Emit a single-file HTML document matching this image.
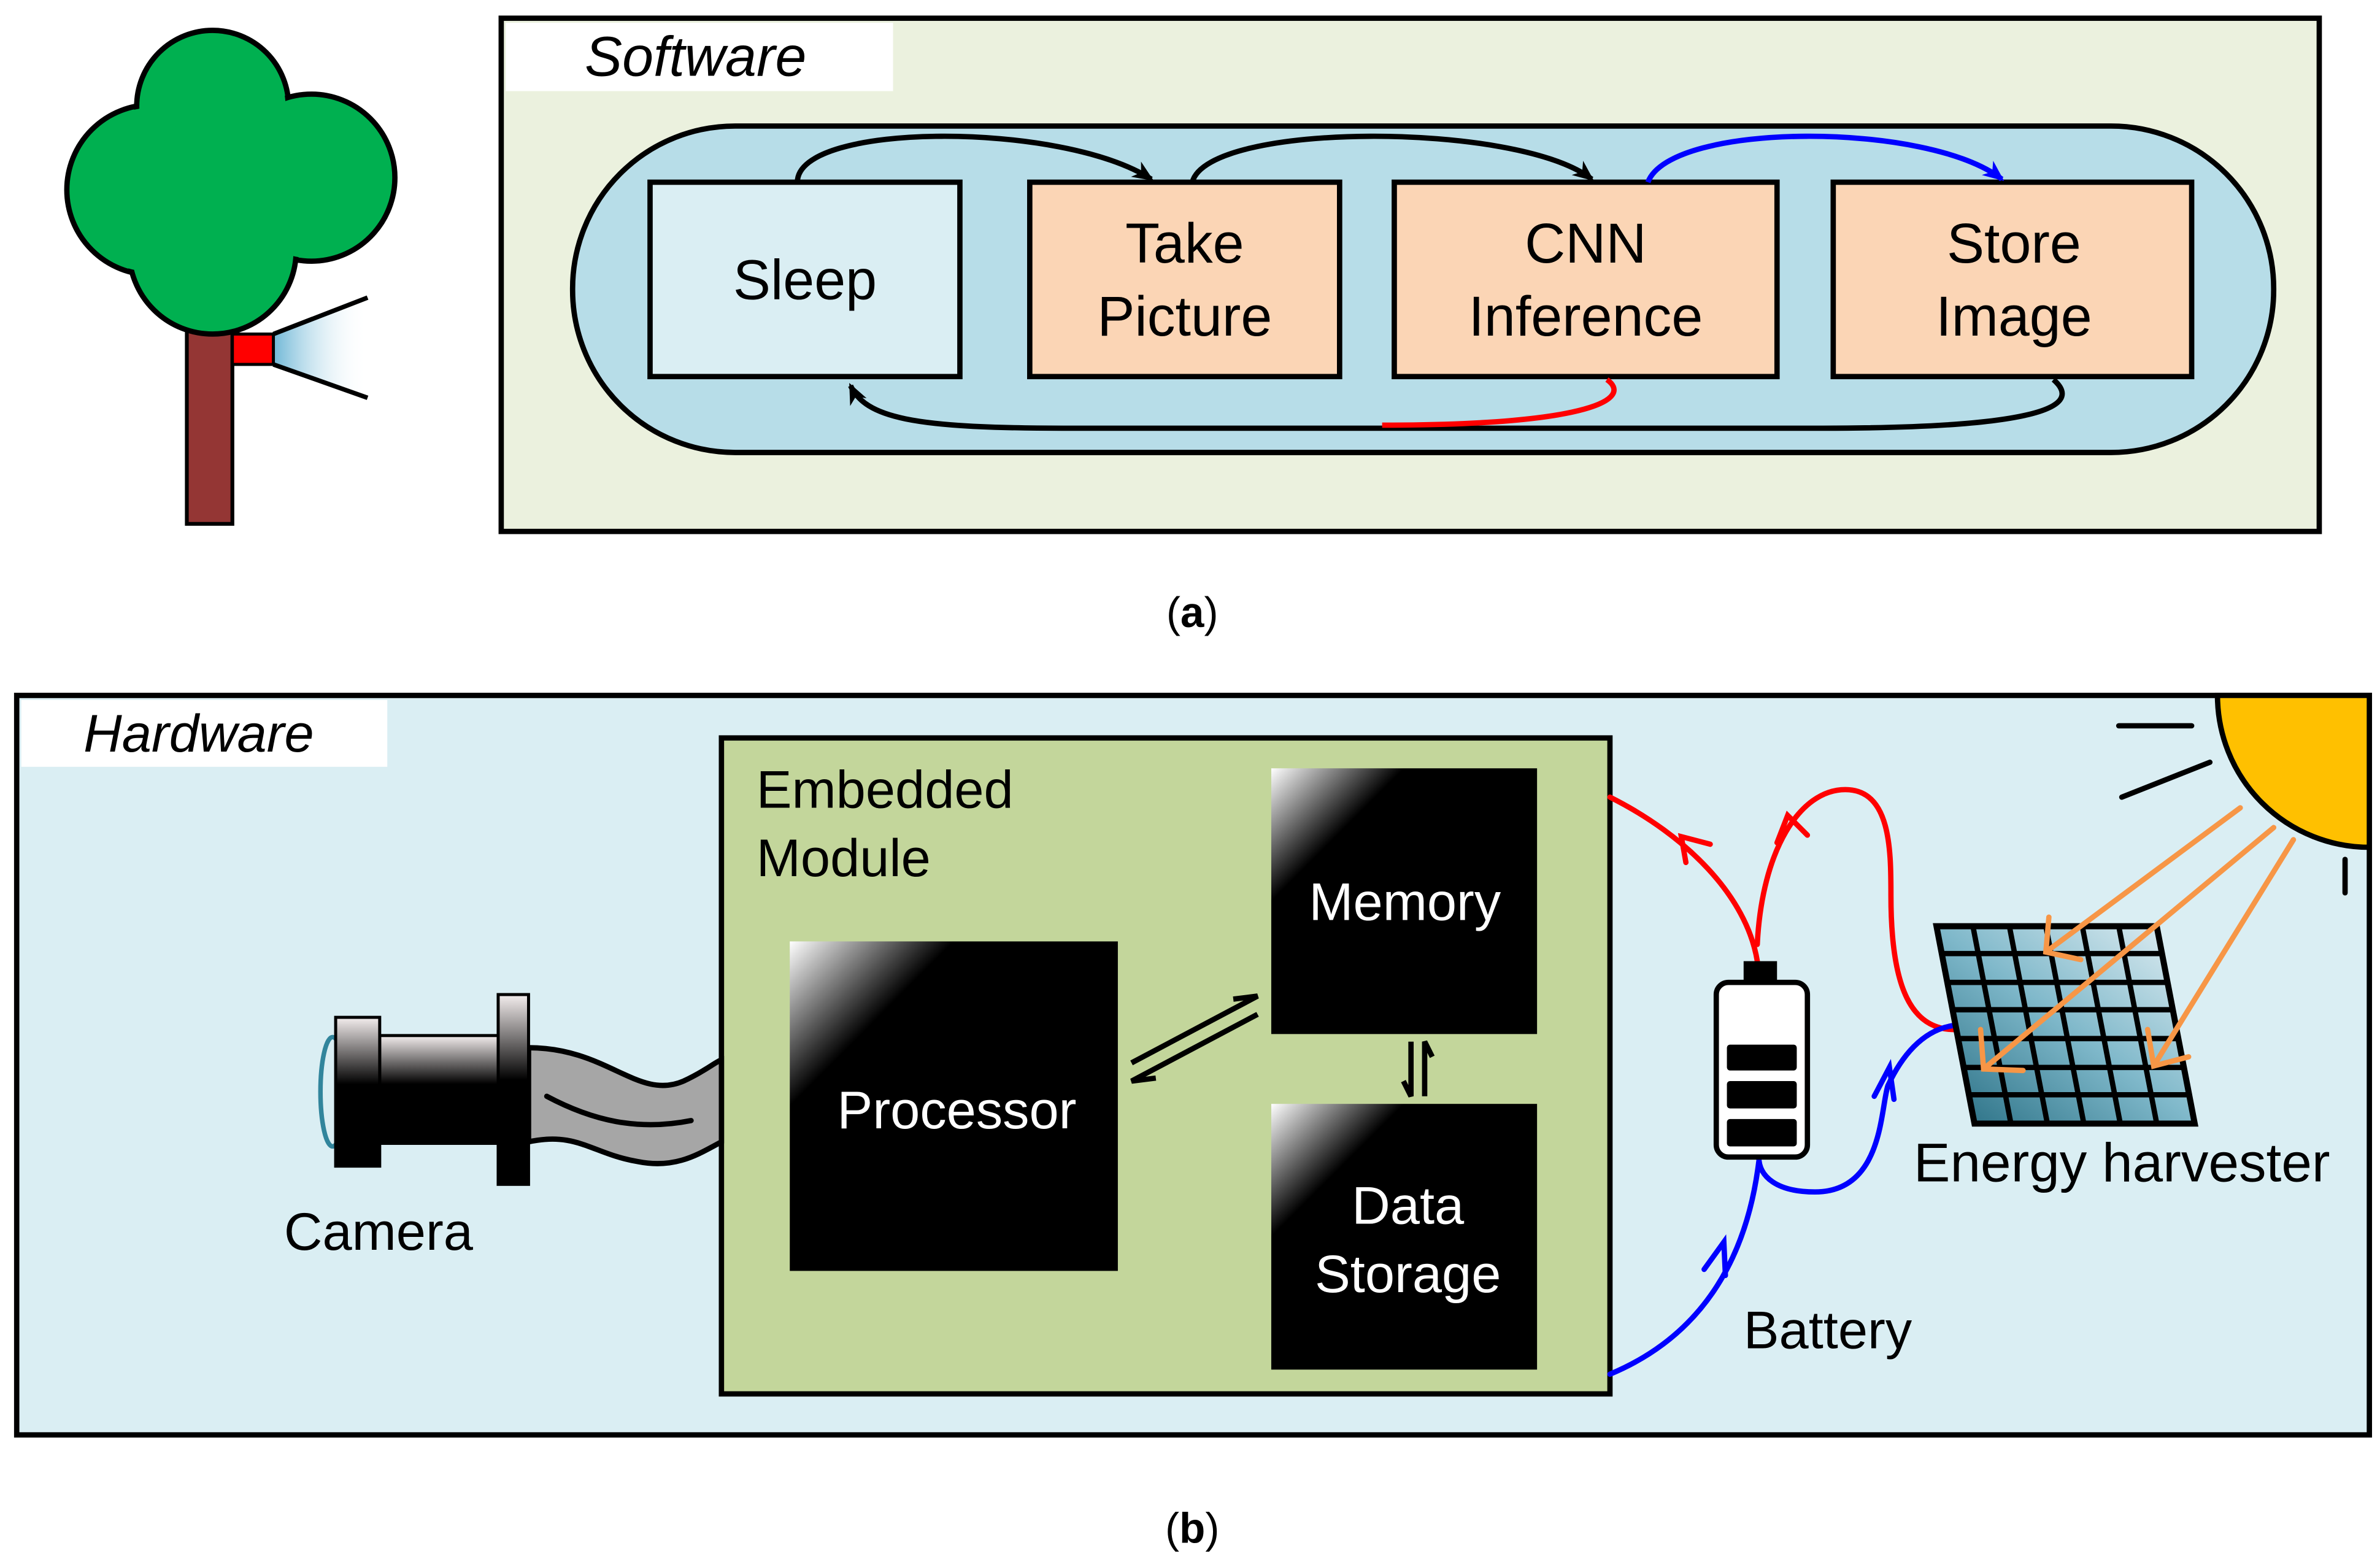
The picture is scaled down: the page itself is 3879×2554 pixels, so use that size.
<!DOCTYPE html>
<html><head><meta charset="utf-8"><style>
html,body{margin:0;padding:0;background:#fff;}
svg{display:block;}
text{font-family:"Liberation Sans",Arial,sans-serif;}
</style></head><body>
<svg width="3879" height="2554" viewBox="0 0 1567 1032" preserveAspectRatio="none" xmlns="http://www.w3.org/2000/svg">
<defs>
<linearGradient id="chip" x1="0" y1="0" x2="1" y2="1">
<stop offset="0" stop-color="#fff"/><stop offset="0.25" stop-color="#000"/><stop offset="1" stop-color="#000"/>
</linearGradient>
<linearGradient id="metal" x1="0" y1="0" x2="0" y2="1">
<stop offset="0" stop-color="#f4eeee"/><stop offset="0.45" stop-color="#000"/><stop offset="1" stop-color="#000"/>
</linearGradient>
<linearGradient id="cone" x1="0" y1="0" x2="1" y2="0">
<stop offset="0" stop-color="#6fb7d6"/><stop offset="1" stop-color="#fff" stop-opacity="0"/>
</linearGradient>
<linearGradient id="panel" x1="0" y1="1" x2="1" y2="0">
<stop offset="0" stop-color="#246b80"/><stop offset="0.5" stop-color="#7fb8ca"/><stop offset="1" stop-color="#e6f1f5"/>
</linearGradient>
<marker id="ak" markerWidth="14" markerHeight="14" refX="12" refY="7" orient="auto" markerUnits="userSpaceOnUse"><path d="M0,1 L14,7 L0,13 L4,7 Z" fill="#000"/></marker>
<marker id="ab" markerWidth="14" markerHeight="14" refX="12" refY="7" orient="auto" markerUnits="userSpaceOnUse"><path d="M0,1 L14,7 L0,13 L4,7 Z" fill="#00f"/></marker>
</defs>

<!-- tree -->
<rect x="123" y="205" width="30" height="140" fill="#943634" stroke="#000" stroke-width="2.5"/>
<g fill="#00B050" stroke="#000" stroke-width="3.5">
<circle cx="100" cy="125" r="56"/><circle cx="140" cy="70" r="50"/><circle cx="205" cy="117" r="55"/><circle cx="140" cy="165" r="55"/>
</g>
<g fill="#00B050"><circle cx="100" cy="125" r="54"/><circle cx="140" cy="70" r="48"/><circle cx="205" cy="117" r="53"/><circle cx="140" cy="165" r="53"/><circle cx="150" cy="120" r="50"/></g>
<polygon points="180,220 242,196 242,262 180,240" fill="url(#cone)"/>
<line x1="180" y1="220" x2="242" y2="196" stroke="#000" stroke-width="3"/>
<line x1="180" y1="240" x2="242" y2="262" stroke="#000" stroke-width="3"/>
<rect x="153" y="220" width="27" height="20" fill="#f00" stroke="#000" stroke-width="2"/>

<!-- software -->
<rect x="330" y="12" width="1197" height="338" fill="#EBF1DE" stroke="#000" stroke-width="3.5"/>
<rect x="333" y="15" width="255" height="45" fill="#fff"/>
<text x="385" y="50" font-size="37" font-style="italic">Software</text>
<rect x="377" y="83" width="1120" height="215" rx="107" ry="107" fill="#B7DDE8" stroke="#000" stroke-width="3.5"/>
<rect x="428" y="120" width="204" height="128" fill="#DAEEF3" stroke="#000" stroke-width="3.5"/>
<rect x="678" y="120" width="204" height="128" fill="#FBD5B5" stroke="#000" stroke-width="3.5"/>
<rect x="918" y="120" width="252" height="128" fill="#FBD5B5" stroke="#000" stroke-width="3.5"/>
<rect x="1207" y="120" width="236" height="128" fill="#FBD5B5" stroke="#000" stroke-width="3.5"/>
<g font-size="37" text-anchor="middle">
<text x="530" y="197">Sleep</text>
<text x="780" y="173">Take</text><text x="780" y="221">Picture</text>
<text x="1044" y="173">CNN</text><text x="1044" y="221">Inference</text>
<text x="1326" y="173">Store</text><text x="1326" y="221">Image</text>
</g>
<g fill="none" stroke-width="3.5">
<path d="M525,120 C525,80 700,80 758,118" stroke="#000" marker-end="url(#ak)"/>
<path d="M785,120 C795,80 1000,80 1048,118" stroke="#000" marker-end="url(#ak)"/>
<path d="M1085,120 C1100,80 1270,80 1318,118" stroke="#00f" marker-end="url(#ab)"/>
<path d="M1352,250 C1375,270 1330,282 1200,282 L700,282 C600,282 570,275 560,254" stroke="#000" marker-end="url(#ak)"/>
<path d="M1058,250 C1075,262 1050,280 910,280" stroke="#f00"/>
</g>
<text x="785" y="413" font-size="28" text-anchor="middle" font-family="Liberation Serif,serif">(<tspan font-weight="bold">a</tspan>)</text>

<!-- hardware -->
<rect x="11" y="458" width="1549" height="487" fill="#DAEEF3" stroke="#000" stroke-width="3.5"/>
<rect x="14" y="461" width="241" height="44" fill="#fff"/>
<text x="55" y="495" font-size="35" font-style="italic">Hardware</text>
<rect x="475" y="486" width="585" height="432" fill="#C3D69B" stroke="#000" stroke-width="3.5"/>
<text x="498" y="532" font-size="35">Embedded</text>
<text x="498" y="577" font-size="35">Module</text>
<rect x="837" y="506" width="175" height="175" fill="url(#chip)"/>
<rect x="837" y="727" width="175" height="175" fill="url(#chip)"/>
<rect x="520" y="620" width="216" height="217" fill="url(#chip)"/>
<g fill="#fff" font-size="35" text-anchor="middle">
<text x="925" y="606">Memory</text>
<text x="927" y="806">Data</text><text x="927" y="851">Storage</text>
<text x="630" y="743">Processor</text>
</g>
<g stroke="#000" stroke-width="3.5" fill="none">
<path d="M745,700 L828,656 L812,658"/>
<path d="M828,668 L745,712 L761,710"/>
<path d="M929,686 L929,722 L924,712"/>
<path d="M938,722 L938,686 L943,696"/>
</g>

<!-- camera -->
<path d="M348,690 C400,690 420,725 450,712 C465,705 470,700 475,698 L475,752 C460,760 445,770 420,765 C390,760 380,745 348,752 Z" fill="#a6a6a6" stroke="#000" stroke-width="3.5"/>
<path d="M360,722 C390,738 420,745 455,738" fill="none" stroke="#000" stroke-width="3.5" stroke-linecap="round"/>
<ellipse cx="219" cy="719" rx="8" ry="36" fill="none" stroke="#31859C" stroke-width="3"/>
<rect x="250" y="682" width="80" height="71" fill="url(#metal)" stroke="#000" stroke-width="2"/>
<rect x="221" y="670" width="29" height="98" fill="url(#metal)" stroke="#000" stroke-width="2"/>
<rect x="328" y="655" width="20" height="125" fill="url(#metal)" stroke="#000" stroke-width="2"/>
<text x="187" y="823" font-size="35">Camera</text>

<!-- wires -->
<g fill="none" stroke-width="3.5" stroke-linecap="round">
<path d="M1157,633 C1150,590 1110,550 1060,525" stroke="#f00"/>
<path d="M1110,568 L1107,551 L1126,556" stroke="#f00"/>
<path d="M1157,622 C1160,560 1185,520 1215,520 C1245,520 1245,560 1245,590 C1245,650 1258,680 1290,678" stroke="#f00"/>
<path d="M1170,555 L1177,537 L1190,550" stroke="#f00"/>
<path d="M1292,675 C1265,675 1250,700 1243,715 C1238,730 1240,785 1195,785 C1170,785 1158,775 1158,762" stroke="#00f"/>
<path d="M1234,722 L1244,703 L1247,724" stroke="#00f"/>
<path d="M1158,765 C1150,830 1120,880 1060,905" stroke="#00f"/>
<path d="M1122,836 L1135,818 L1136,840" stroke="#00f"/>
</g>

<!-- battery -->
<rect x="1148" y="633" width="22" height="15" fill="#000"/>
<rect x="1130" y="647" width="60" height="115" rx="8" fill="#fff" stroke="#000" stroke-width="3.5"/>
<rect x="1137" y="688" width="46" height="17" fill="#000" rx="2"/>
<rect x="1137" y="712" width="46" height="18" fill="#000" rx="2"/>
<rect x="1137" y="737" width="46" height="18" fill="#000" rx="2"/>
<text x="1148" y="888" font-size="35">Battery</text>

<!-- solar panel -->
<polygon points="1275,610 1420,610 1445,740 1300,740" fill="url(#panel)" stroke="#000" stroke-width="4"/>
<g stroke="#000" stroke-width="3.5">
<line x1="1278" y1="628" x2="1423" y2="628"/><line x1="1282" y1="647" x2="1427" y2="647"/>
<line x1="1285" y1="665" x2="1430" y2="665"/><line x1="1289" y1="684" x2="1434" y2="684"/>
<line x1="1293" y1="703" x2="1438" y2="703"/><line x1="1297" y1="721" x2="1441" y2="721"/>
<line x1="1299" y1="610" x2="1324" y2="740"/><line x1="1323" y1="610" x2="1348" y2="740"/>
<line x1="1347" y1="610" x2="1372" y2="740"/><line x1="1371" y1="610" x2="1396" y2="740"/>
<line x1="1395" y1="610" x2="1420" y2="740"/>
</g>
<text x="1260" y="778" font-size="36">Energy harvester</text>

<!-- sun -->
<path d="M1460,458 A100,100 0 0 0 1560,558 L1560,458 Z" fill="#FFC000" stroke="#000" stroke-width="3.5"/>
<g stroke="#000" stroke-width="3.5" stroke-linecap="round">
<line x1="1395" y1="478" x2="1443" y2="478"/>
<line x1="1397" y1="525" x2="1455" y2="502"/>
<line x1="1544" y1="566" x2="1544" y2="588"/>
</g>
<g stroke="#F79646" stroke-width="3.5" fill="none" stroke-linecap="round">
<line x1="1475" y1="532" x2="1347" y2="627"/>
<line x1="1497" y1="545" x2="1306" y2="704"/>
<line x1="1510" y1="553" x2="1418" y2="702"/>
<path d="M1349,604 L1347,627 L1370,632"/>
<path d="M1304,678 L1306,704 L1332,705"/>
<path d="M1414,678 L1418,702 L1441,696"/>
</g>

<text x="785" y="1016" font-size="28" text-anchor="middle" font-family="Liberation Serif,serif">(<tspan font-weight="bold">b</tspan>)</text>
</svg>
</body></html>
